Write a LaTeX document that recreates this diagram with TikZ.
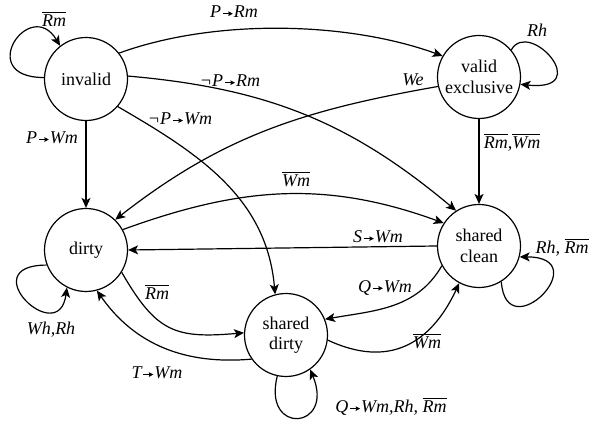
\documentclass[tikz,border=0pt]{standalone}
\usepackage{fontspec}
\setmainfont{Liberation Serif}
\usetikzlibrary{arrows.meta}

% small arrow used inside the transition labels
\newcommand{\tarrow}{\kern1.5pt\tikz[baseline={(0,-4.2pt)}]\draw[line width=0.6pt,-{Stealth[length=4.5pt,width=4.5pt,inset=0.6pt]}] (0,0)--(10pt,0);\kern0.8pt}
% barred signal name
\newcommand{\negl}[1]{\vbox{\hrule height 1.1pt\kern 1.6pt\hbox{#1}}}

\tikzset{
  state/.style={circle,draw,line width=1.2pt,minimum size=83pt,inner sep=0pt,
                align=center,font=\fontsize{18}{20.5}\selectfont},
  edge/.style={line width=1.2pt,-{Stealth[length=10pt,width=9pt,inset=2.5pt]}},
  lbl/.style={inner sep=0pt,font=\fontsize{18}{21}\selectfont\itshape},
}

\begin{document}
\begin{tikzpicture}[x=1pt,y=1pt]
\useasboundingbox (0,0) rectangle (591,420);

% states
\node[state] (inv)   at (86,341)  {invalid};
\node[state] (vex)   at (479,343) {valid\\exclusive};
\node[state] (dirty) at (86,170)  {dirty};
\node[state] (sc)    at (479,174) {shared\\clean};
\node[state] (sd)    at (286,85)  {shared\\dirty};

% self loops
\draw[edge] (inv.178) .. controls +(-70,0) and +(-30,50) .. (inv.128);
\draw[edge] (vex.40) .. controls +(18,32) and +(75,-8) .. (vex.-10);
\draw[edge] (dirty.201) .. controls +(-75,0) and +(-8,-62) .. (dirty.243);
\draw[edge] (sc.-58) .. controls +(5,-68) and +(78,0) .. (sc.-15);
\draw[edge] (sd.258) .. controls +(-15,-60) and +(25,-60) .. (sd.305);

% transitions
\draw[edge] (inv.38) to[out=20,in=160,looseness=0.8] (vex.150);
\draw[edge] (inv.4) to[out=-5,in=140] (sc.123);
\draw[edge] (inv.-41) to[out=-30,in=95] (sd.105);
\draw[edge] (inv) -- (dirty);
\draw[edge] (vex.193) to[out=190,in=38] (dirty.46);
\draw[edge] (vex) -- (sc);
\draw[edge] (dirty.29) to[out=20,in=160] (sc.147);
\draw[edge] (sc.west) -- (dirty.east);
\draw[edge] (dirty.-32) to[out=-60,in=185,looseness=1.3] (sd.177);
\draw[edge] (sd.215) to[out=185,in=305] (dirty.285);
\draw[edge] (sc.208) to[out=240,in=10] (sd.22);
\draw[edge] (sd.-7) to[out=-25,in=245,looseness=1.2] (sc.242);

% labels
\node[lbl] (l1)  at (54,401)  {\negl{Rm}};
\node[lbl] (l2)  at (234,408) {P\tarrow Rm};
\node[lbl] (l3)  at (230,339) {¬P\tarrow Rm};
\node[lbl] (l4)  at (180,301) {¬P\tarrow Wm};
\node[lbl] (l5)  at (52,282)  {P\tarrow Wm};
\node[lbl] (l6)  at (537,390) {Rh};
\node[lbl] (l7)  at (413,340) {We};
\node[lbl] (l8)  at (512,277) {\negl{Rm},\negl{Wm}};
\node[lbl] (l9)  at (296,241) {\negl{Wm}};
\node[lbl] (l10) at (378,183) {S\tarrow Wm};
\node[lbl] (l11) at (562,172) {Rh, \negl{Rm}};
\node[lbl] (l12) at (385,132) {Q\tarrow Wm};
\node[lbl] (l13) at (157,128) {\negl{Rm}};
\node[lbl] (l14) at (51,90)   {Wh,Rh};
\node[lbl] (l15) at (157,47)  {T\tarrow Wm};
\node[lbl] (l16) at (427,79)  {\negl{Wm}};
\node[lbl] (l17) at (391,13)  {Q\tarrow Wm,Rh, \negl{Rm}};
\end{tikzpicture}
\end{document}
